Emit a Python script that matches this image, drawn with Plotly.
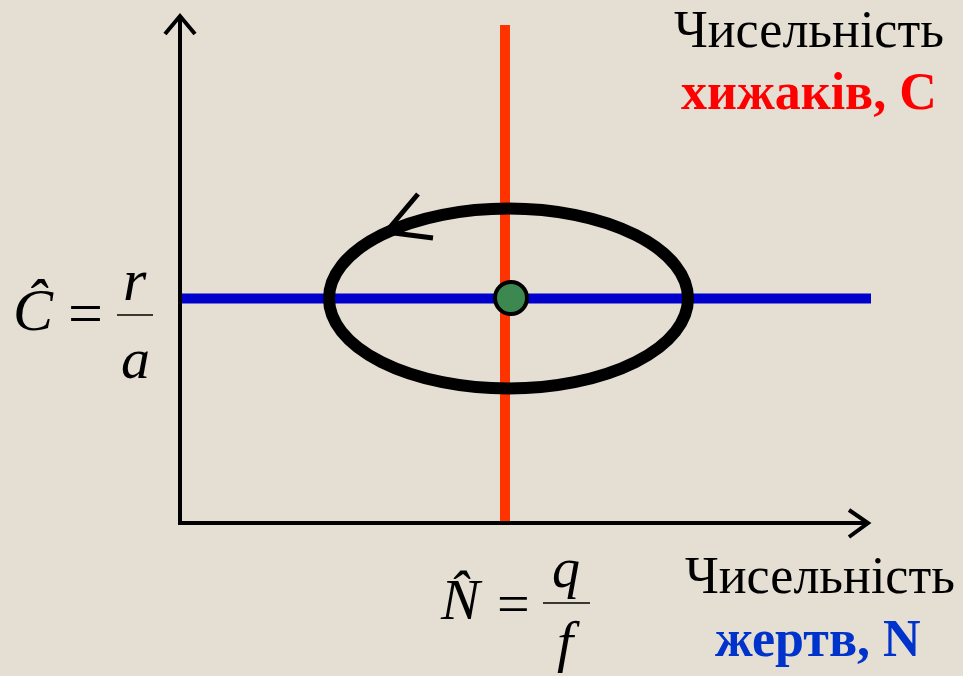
"""
Фазовий портрет моделі хижак-жертва (Лотка-Вольтерра):
ізокліни, рівноважна точка та замкнений цикл чисельностей.
"""

import plotly.graph_objects as go

# одиниці осей: 1 одиниця = 1 піксель, початок координат у куті осей
x_view = [-180, 783]
y_view = [-153, 523]

axis_n_max = 688          # довжина осі жертв
axis_c_max = 507          # довжина осі хижаків

# ізокліни
prey_isocline_c = 224.5   # C = r/a (синя)
prey_isocline_n_end = 691
pred_isocline_n = 325     # N = q/f (червона)
pred_isocline_c_end = 498

# рівноважна точка та цикл
eq_n = 331
eq_c = 225
cycle_center = [328.5, 224.5]
cycle_radii = [179.5, 90]
cycle_arrow_tip = [206, 291]
cycle_arrow_arms = [[238, 329], [253, 285]]

axis_labels = ['Чисельність', 'хижаків, С', 'Чисельність', 'жертв, N']

BG = '#E4DED3'
FONT = 'Liberation Serif'

fig = go.Figure()

# червона ізокліна хижаків
fig.add_trace(go.Scatter(
    x=[pred_isocline_n, pred_isocline_n], y=[0, pred_isocline_c_end],
    mode='lines', line=dict(color='#FF3300', width=10), hoverinfo='skip'))

# синя ізокліна жертв
fig.add_trace(go.Scatter(
    x=[0, prey_isocline_n_end], y=[prey_isocline_c, prey_isocline_c],
    mode='lines', line=dict(color='#0000CC', width=10), hoverinfo='skip'))

# осі
fig.add_trace(go.Scatter(
    x=[0, 0, axis_n_max], y=[axis_c_max, 0, 0],
    mode='lines', line=dict(color='black', width=4), hoverinfo='skip'))
head = 15
fig.add_trace(go.Scatter(
    x=[-head, 0, head], y=[axis_c_max - 18, axis_c_max, axis_c_max - 18],
    mode='lines', line=dict(color='black', width=4), hoverinfo='skip'))
fig.add_trace(go.Scatter(
    x=[axis_n_max - 19, axis_n_max, axis_n_max - 19], y=[13, 0, -14],
    mode='lines', line=dict(color='black', width=4), hoverinfo='skip'))

# стрілка напрямку руху по циклу
fig.add_trace(go.Scatter(
    x=[cycle_arrow_arms[0][0], cycle_arrow_tip[0], cycle_arrow_arms[1][0]],
    y=[cycle_arrow_arms[0][1], cycle_arrow_tip[1], cycle_arrow_arms[1][1]],
    mode='lines', line=dict(color='black', width=5), hoverinfo='skip'))

# рівноважна точка
fig.add_trace(go.Scatter(
    x=[eq_n], y=[eq_c], mode='markers',
    marker=dict(size=32, color='#3D8751', line=dict(color='black', width=4)),
    hoverinfo='skip'))

# замкнений цикл
fig.add_shape(
    type='circle', xref='x', yref='y', layer='above',
    x0=cycle_center[0] - cycle_radii[0], x1=cycle_center[0] + cycle_radii[0],
    y0=cycle_center[1] - cycle_radii[1], y1=cycle_center[1] + cycle_radii[1],
    line=dict(color='black', width=12))

# риски дробів
fig.add_trace(go.Scatter(
    x=[-63, -27], y=[208, 208], mode='lines',
    line=dict(color='black', width=1.5), hoverinfo='skip'))
fig.add_trace(go.Scatter(
    x=[363, 410], y=[-80, -80], mode='lines',
    line=dict(color='black', width=1.5), hoverinfo='skip'))


def label(x, y, text, size, color='black', xanchor='center'):
    fig.add_annotation(
        x=x, y=y, xref='x', yref='y', text=text, showarrow=False,
        xanchor=xanchor, yanchor='middle',
        font=dict(family=FONT, size=size, color=color))


# підписи осей
label(492, 494, axis_labels[0], 52, xanchor='left')
label(499, 432, '<b>' + axis_labels[1] + '</b>', 52, '#FF0000', xanchor='left')
label(503, -52, axis_labels[2], 52, xanchor='left')
label(533, -115, '<b>' + axis_labels[3] + '</b>', 52, '#0033CC', xanchor='left')

# формули рівноваги
label(-147, 213, '<i>Ĉ</i>', 60)
label(-95, 210, '=', 62)
label(-45, 243, '<i>r</i>', 60)
label(-45, 165, '<i>a</i>', 58)

label(281, -76, '<i>N\u0302</i>', 58)
label(333, -80, '=', 58)
label(386, -45, '<i>q</i>', 56)
label(388, -118, '<i>f</i>', 58)

fig.update_layout(
    width=963, height=676,
    margin=dict(l=0, r=0, t=0, b=0),
    paper_bgcolor=BG, plot_bgcolor=BG,
    showlegend=False,
    xaxis=dict(range=x_view, visible=False, fixedrange=True),
    yaxis=dict(range=y_view, visible=False, fixedrange=True),
)

fig.write_html('out.html', config={'displayModeBar': False},
               post_script="document.body.style.margin = '0';")
